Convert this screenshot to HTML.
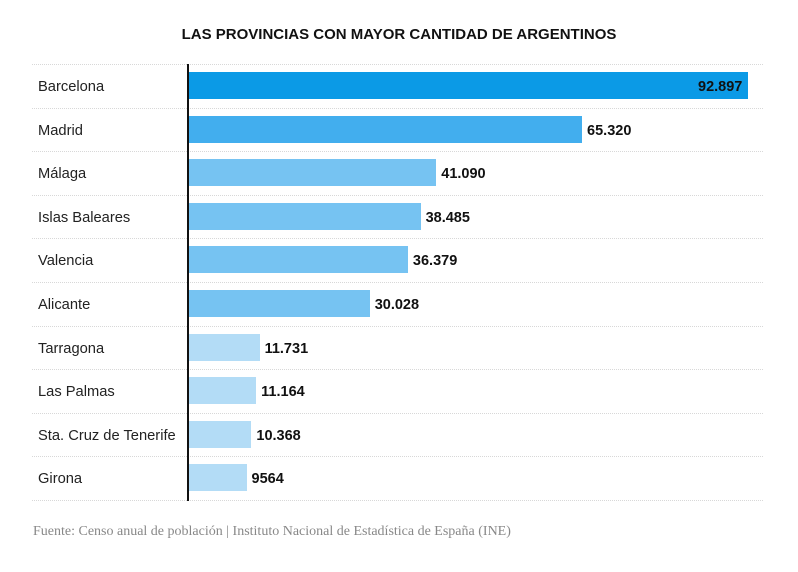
<!DOCTYPE html>
<html><head><meta charset="utf-8"><style>
body{margin:0;background:#fff;width:798px;height:572px;position:relative;overflow:hidden;font-family:"Liberation Sans",Arial,sans-serif}
.t{position:absolute;top:26px;left:0;width:798px;text-align:center;font-weight:bold;font-size:15px;color:#111}
.sep{position:absolute;left:32px;width:731px;border-top:1px dotted #d8d8d8}
.lab{position:absolute;left:38px;font-size:14.7px;color:#222;line-height:16px}
.bar{position:absolute;left:189px;height:27px}
.v{position:absolute;font-size:14.5px;font-weight:bold;color:#111;line-height:16px}
.ax{position:absolute;left:187px;top:64px;width:1.5px;height:437px;background:#111}
.src{position:absolute;left:33px;top:524px;font-family:"Liberation Serif",serif;font-size:14px;color:#888}
</style></head><body>
<div class="t">LAS PROVINCIAS CON MAYOR CANTIDAD DE ARGENTINOS</div>
<div id="c"></div>
<div class="ax"></div>
<div class="src">Fuente: Censo anual de población | Instituto Nacional de Estadística de España (INE)</div>
<script>
var d=[["Barcelona",92897,"92.897","#0b9ae6"],["Madrid",65320,"65.320","#42aeee"],["Málaga",41090,"41.090","#76c3f2"],["Islas Baleares",38485,"38.485","#76c3f2"],["Valencia",36379,"36.379","#76c3f2"],["Alicante",30028,"30.028","#76c3f2"],["Tarragona",11731,"11.731","#b3dcf6"],["Las Palmas",11164,"11.164","#b3dcf6"],["Sta. Cruz de Tenerife",10368,"10.368","#b3dcf6"],["Girona",9564,"9564","#b3dcf6"]];
var h="",rh=43.6;
for(var i=0;i<d.length;i++){var y=64+i*rh;var w=d[i][1]*559/92897;
h+='<div class="sep" style="top:'+y+'px"></div>';
h+='<div class="lab" style="top:'+(y+15)+'px">'+d[i][0]+'</div>';
h+='<div class="bar" style="top:'+(y+8)+'px;width:'+w+'px;background:'+d[i][3]+'"></div>';
if(i==0)h+='<div class="v" style="top:'+(y+15)+'px;left:'+(189+w-50)+'px">'+d[i][2]+'</div>';
else h+='<div class="v" style="top:'+(y+15)+'px;left:'+(189+w+5)+'px">'+d[i][2]+'</div>';}
h+='<div class="sep" style="top:'+(64+10*rh)+'px"></div>';
document.getElementById("c").innerHTML=h;
</script>
</body></html>
